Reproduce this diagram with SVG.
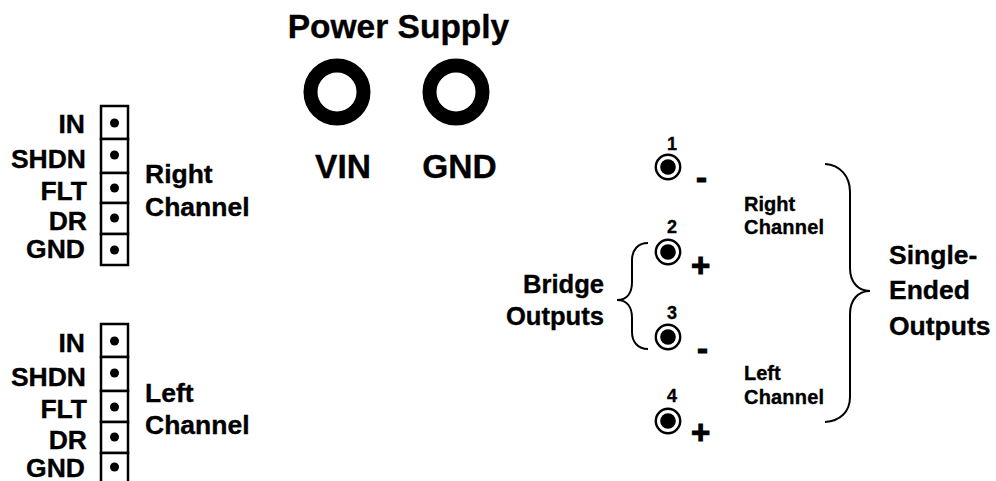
<svg xmlns="http://www.w3.org/2000/svg" width="996" height="481" viewBox="0 0 996 481">
<style>
text{font-family:"Liberation Sans",Arial,sans-serif;font-weight:bold;fill:#000;stroke:#000;stroke-width:.35}
.p{font-size:26.5px;text-anchor:end}
.l{font-size:26.5px}
.b{font-size:25.6px;text-anchor:end}
.h{font-size:33.5px}
.n{font-size:18px;text-anchor:middle}
.s{font-size:20px}
.sg{font-size:33px;stroke-width:1}
.box{fill:#fff;stroke:#000;stroke-width:2.5}
.ring{fill:none;stroke:#000;stroke-width:14}
.jack{fill:#fff;stroke:#000;stroke-width:2.4}
.br{fill:none;stroke:#000;stroke-width:2}
</style>
<defs>
<g id="jk"><circle class="jack" r="12.2"/><circle r="7.8"/></g>
</defs>
<rect width="996" height="481" fill="#fff"/>
<g id="header-right">
<rect class="box" x="101" y="106" width="27" height="33"/>
<rect class="box" x="101" y="139" width="27" height="34"/>
<rect class="box" x="101" y="173" width="27" height="30"/>
<rect class="box" x="101" y="203" width="27" height="31"/>
<rect class="box" x="101" y="234" width="27" height="31"/>
<circle cx="114.500" cy="123" r="4.500"/><circle cx="114.500" cy="155" r="4.500"/><circle cx="114.500" cy="188" r="4.500"/><circle cx="114.500" cy="218" r="4.500"/><circle cx="114.500" cy="250" r="4.500"/>
<text class="p" x="85" y="133">IN</text>
<text class="p" x="86" y="168">SHDN</text>
<text class="p" x="87" y="200">FLT</text>
<text class="p" x="87" y="230">DR</text>
<text class="p" x="85" y="258">GND</text>
<text class="l" x="145" y="183">Right</text>
<text class="l" x="145" y="216">Channel</text>
</g>
<g id="header-left">
<rect class="box" x="101" y="324" width="27" height="33"/>
<rect class="box" x="101" y="357" width="27" height="34"/>
<rect class="box" x="101" y="391" width="27" height="31"/>
<rect class="box" x="101" y="422" width="27" height="31"/>
<path d="M101 484V453H128V484" fill="#fff" stroke="#000" stroke-width="2.500"/>
<circle cx="114.500" cy="341" r="4.500"/><circle cx="114.500" cy="373" r="4.500"/><circle cx="114.500" cy="407" r="4.500"/><circle cx="114.500" cy="437" r="4.500"/><circle cx="114.500" cy="467" r="4.500"/>
<text class="p" x="85" y="352">IN</text>
<text class="p" x="86" y="386">SHDN</text>
<text class="p" x="87" y="418">FLT</text>
<text class="p" x="87" y="449">DR</text>
<text class="p" x="85" y="477">GND</text>
<text class="l" x="145" y="402">Left</text>
<text class="l" x="145" y="434">Channel</text>
</g>
<g id="power-supply">
<text class="h" x="398.500" y="38" text-anchor="middle">Power Supply</text>
</g>
<g id="vin"><circle class="ring" cx="337" cy="92" r="26.500"/><text class="h" x="343" y="178" text-anchor="middle">VIN</text></g>
<g id="gnd"><circle class="ring" cx="456" cy="92" r="26.500"/><text class="h" x="459.500" y="178" text-anchor="middle">GND</text></g>
<g id="jack-1"><use href="#jk" x="668" y="167"/><text class="n" x="672" y="150">1</text><text class="sg" x="696" y="189">-</text></g>
<g id="jack-2"><use href="#jk" x="668" y="252"/><text class="n" x="672" y="233">2</text><text class="sg" x="691" y="277">+</text></g>
<g id="jack-3"><use href="#jk" x="668" y="337"/><text class="n" x="672" y="319">3</text><text class="sg" x="697" y="360">-</text></g>
<g id="jack-4"><use href="#jk" x="668" y="421"/><text class="n" x="672" y="402">4</text><text class="sg" x="691" y="444">+</text></g>
<g id="connectors">
<path class="br" d="M825 164C840 165 850 176 850 192V268C850 282 858 291 870 291C858 291 850 300 850 314V397C850 412 840 421 825 422"/>
<path class="br" d="M648 243C638 243 632 250 632 260V282C632 293 627 300 617 300C627 300 632 307 632 318V332C632 342 638 349 648 349"/>
</g>
<g id="labels">
<text class="s" x="744" y="211">Right</text>
<text class="s" x="744" y="234" textLength="80">Channel</text>
<text class="s" x="744" y="380">Left</text>
<text class="s" x="744" y="404" textLength="80">Channel</text>
<text class="b" x="604" y="293">Bridge</text>
<text class="b" x="604" y="325">Outputs</text>
<text class="l" x="889" y="264">Single-</text>
<text class="l" x="889" y="299">Ended</text>
<text class="l" x="889" y="335">Outputs</text>
</g>
</svg>
